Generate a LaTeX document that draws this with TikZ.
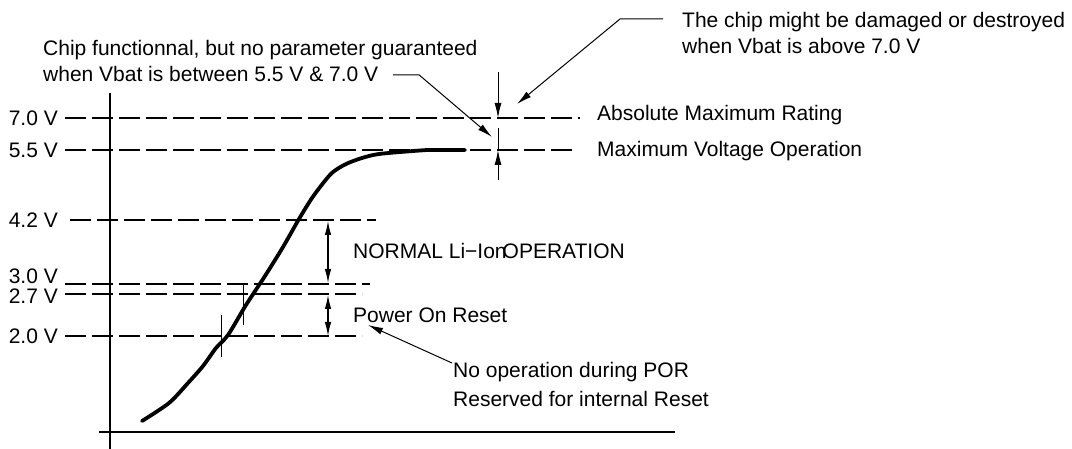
\documentclass[tikz,border=0pt]{standalone}
\usepackage{fontspec}
\setmainfont{Liberation Sans}
\usetikzlibrary{arrows.meta, positioning, calc}
\tikzset{
  guide/.style={line width=1.2pt, dash pattern=on 21pt off 6pt},
  vlabel/.style={inner sep=0pt, font=\fontsize{21}{26}\selectfont},
  note/.style={inner sep=0pt, align=left, font=\fontsize{21}{26}\selectfont},
  axisline/.style={line width=2.4pt},
  trace/.style={line width=3.8pt, line join=round, line cap=round},
  dimarrow/.style={line width=1.1pt, {Latex[length=14pt,width=6.5pt]}-{Latex[length=14pt,width=6.5pt]}},
  leader/.style={line width=1pt, -{Latex[length=15pt,width=7pt]}},
  marker/.style={line width=1pt},
}

\begin{document}
\begin{tikzpicture}[x=1pt, y=-1pt, node distance=7pt]
        \useasboundingbox (0,0) rectangle (1072,449);
        \coordinate (s70) at (65,118);  \coordinate (e70) at (580,118);
        \coordinate (s55) at (65,150);  \coordinate (e55) at (577,150);
        \coordinate (s42) at (70,220);  \coordinate (e42) at (376,220);
        \coordinate (s30) at (65,284);  \coordinate (e30) at (370,284);
        \coordinate (s27) at (65,294);  \coordinate (e27) at (362,294);
        \coordinate (s20) at (65,336);  \coordinate (e20) at (362,336);
        \node[vlabel, left=of s70] (v70) {7.0 V};
        \node[vlabel, left=of s55] (v55) {5.5 V};
        \node[vlabel, left=12pt of s42] (v42) {4.2 V};
        \node[vlabel, left=of s30, yshift=8pt] (v30) {3.0 V};
        \node[vlabel, left=of s27, yshift=-2pt] (v27) {2.7 V};
        \node[vlabel, left=of s20] (v20) {2.0 V};
        \draw[guide] (s70) -- (e70);
        \draw[guide] (s55) -- (e55);
        \draw[guide] (s42) -- (e42);
        \draw[guide] (s30) -- (e30);
        \draw[guide] (s27) -- (e27);
        \draw[guide] (s20) -- (e20);

        \coordinate (ytop) at (110,93);  \coordinate (ybot) at (110,449);
        \coordinate (xleft) at (99,432); \coordinate (xright) at (675,432);
        \draw[axisline] (ytop) -- (ybot);
        \draw[axisline] (xleft) -- (xright);

        \draw[trace] plot[smooth, tension=0.5] coordinates {(142,421) (169,403) (188,383) (203,366)
          (216,348) (228,335) (246,305) (265,276) (283,247) (299,219) (312,198)
          (324,182) (333,172) (346,164) (362,158) (379,154) (413,151) (427,150) (465,150)};
        \draw[marker] (221,315) -- (221,357);
        \draw[marker] (243,283) -- (243,325);

        \node[note, anchor=base west] (amr) at (597,121) {Absolute Maximum Rating};
        \node[note, anchor=base west] (mvo) at (597,157) {Maximum Voltage Operation};
        \node[note, anchor=base west] (liion) at (353,259) {NORMAL Li−Ion\kern-4pt OPERATION};
        \node[note, anchor=base west] (por) at (353,323) {Power On Reset};
        \node[note, anchor=north west] (chip) at (43,40) {Chip functionnal, but no parameter guaranteed\\when Vbat is between 5.5 V \& 7.0 V};
        \node[note, anchor=north west] (dmg) at (682,12) {The chip might be damaged or destroyed\\when Vbat is above 7.0 V};
        \node[note, anchor=north west, font=\fontsize{21}{29}\selectfont] (nop) at (453,362) {No operation during POR\\Reserved for internal Reset};

        \coordinate (liTop) at (328,221); \coordinate (liBot) at (328,283);
        \coordinate (porTop) at (328,295); \coordinate (porBot) at (328,336);
        \draw[dimarrow] (liTop) -- (liBot);
        \draw[dimarrow] (porTop) -- (porBot);

        \coordinate (amrAbove) at (498,72); \coordinate (amrHit) at (498,118);
        \coordinate (mvoMid) at (498,128); \coordinate (mvoHit) at (498,150); \coordinate (mvoBelow) at (498,180);
        \draw[leader] (amrAbove) -- (amrHit);
        \draw[marker] (mvoMid) -- (mvoHit);
        \draw[leader] (mvoBelow) -- (mvoHit);

        \coordinate (tipA) at (492,137);
        \coordinate (tipB) at (517,104);
        \coordinate (tipC) at (368,325);
        \draw[leader] ($(chip.south west)+(350,-7)$) -- ++(26,0) -- (tipA);
        \draw[leader] ($(dmg.north west)+(-19,7)$) -- ++(-43,0) -- (tipB);
        \draw[leader] ($(nop.north west)+(-1,1)$) -- (tipC);
      \end{tikzpicture}
\end{document}
